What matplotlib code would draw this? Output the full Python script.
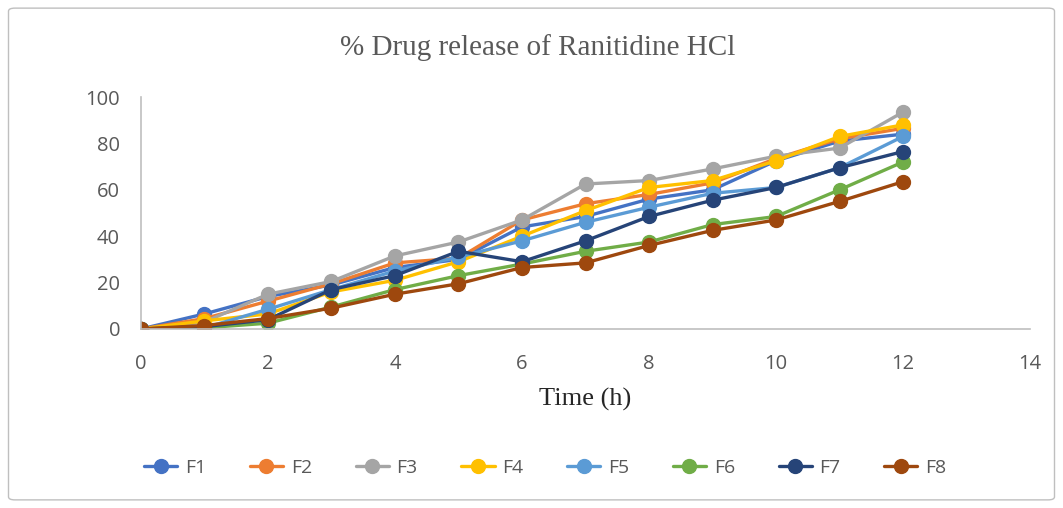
import matplotlib.pyplot as plt
from matplotlib.patches import FancyBboxPatch

# time points (h)
time_h = [0, 1, 2, 3, 4, 5, 6, 7, 8, 9, 10, 11, 12]

# % drug release per formulation
F1 = [0, 6.5, 14, 19, 26.5, 30, 44, 48.5, 56, 60, 72.5, 81, 84]
F2 = [0, 4.5, 12, 19.5, 28.5, 30.5, 47, 54, 58, 63, 73.5, 82, 86.5]
F3 = [0, 3, 15, 20.5, 31.5, 37.5, 47, 62.5, 64, 69, 74.5, 78, 93.5]
F4 = [0, 3.5, 6.5, 16, 21, 29, 40, 51, 61, 64, 72.5, 83, 88]
F5 = [0, 0.5, 8.5, 17, 25, 31, 38, 46, 52.5, 58.5, 61, 69.5, 83]
F6 = [0, 0.5, 2.5, 9.5, 17, 23, 28, 33.5, 37.5, 45, 48.5, 60, 72]
F7 = [0, 1, 4, 17, 23, 33.5, 29, 38, 48.5, 55.5, 61, 69.5, 76.5]
F8 = [0, 1.5, 4.5, 9, 15, 19.5, 26.5, 28.5, 36, 42.5, 47, 55, 63.5]

series_names = ["F1", "F2", "F3", "F4", "F5", "F6", "F7", "F8"]
series_vals = [F1, F2, F3, F4, F5, F6, F7, F8]
colors = ["#4472C4", "#ED7D31", "#A5A5A5", "#FFC000",
          "#5B9BD5", "#70AD47", "#264478", "#9E480E"]

fig = plt.figure(figsize=(10.63, 5.08), dpi=100)

# outer chart border
border = FancyBboxPatch((0.008, 0.016), 0.984, 0.968,
                        boxstyle="round,pad=0,rounding_size=0.006",
                        transform=fig.transFigure, fill=False,
                        edgecolor="#BFBFBF", linewidth=1)
fig.patches.append(border)

ax = fig.add_axes([0.1326, 0.3524, 0.8364, 0.4566])

for name, vals, c in zip(series_names, series_vals, colors):
    ax.plot(time_h, vals, color=c, linewidth=2.4, marker="o",
            markersize=10, label=name, solid_capstyle="round")

ax.set_xlim(0, 14)
ax.set_ylim(0, 100)
ax.set_xticks(range(0, 15, 2))
ax.set_yticks(range(0, 101, 20))

for side in ["top", "right"]:
    ax.spines[side].set_visible(False)
for side in ["left", "bottom"]:
    ax.spines[side].set_color("#BFBFBF")
    ax.spines[side].set_linewidth(1.2)
ax.tick_params(length=0, labelsize=14.5, colors="#595959")
ax.tick_params(axis="y", pad=15)
ax.tick_params(axis="x", pad=18)
for lab in ax.get_xticklabels() + ax.get_yticklabels():
    lab.set_family("Open Sans")

fig.text(0.506, 0.907, "% Drug release of Ranitidine HCl",
         family="Liberation Serif", fontsize=21, color="#595959",
         ha="center", va="center")
fig.text(0.5508, 0.2146, "Time (h)", family="Liberation Serif",
         fontsize=19, color="#262626", ha="center", va="center")

leg = fig.legend(loc="center", bbox_to_anchor=(0.513, 0.079), ncol=8,
                 frameon=False, prop={"family": "Open Sans", "size": 14},
                 handlelength=1.7, columnspacing=2.25, handletextpad=0.4)
for t in leg.get_texts():
    t.set_color("#595959")

fig.savefig("out.png", dpi=100)
